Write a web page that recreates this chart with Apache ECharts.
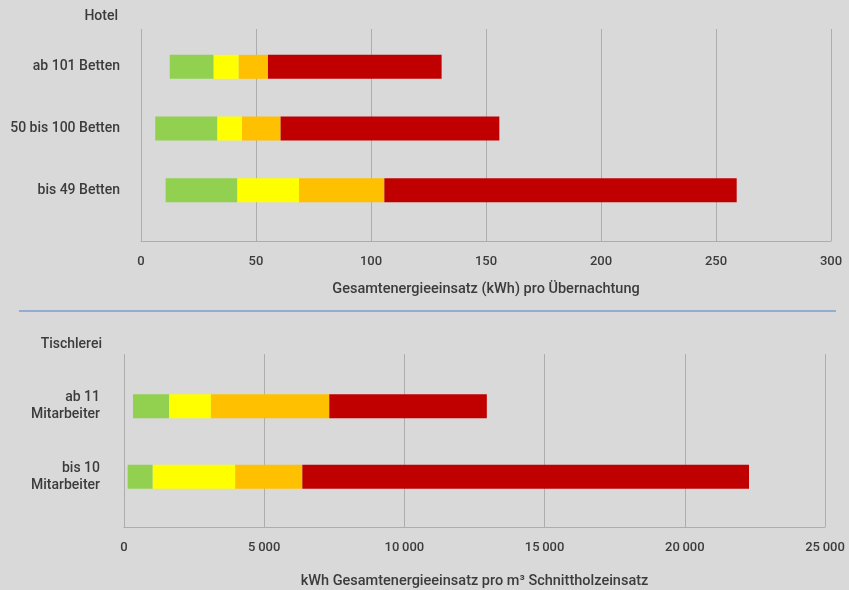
<!DOCTYPE html>
<html>
<head>
<meta charset="utf-8">
<script src="https://cdn.jsdelivr.net/npm/echarts@6/dist/echarts.min.js"></script>
<style>
  html, body { margin: 0; background: #d9d9d9; }
  #chart { width: 849px; height: 590px; }
</style>
</head>
<body>
<div id="chart"></div>
<script>
// Hotel: bar boundaries (kWh pro Übernachtung)
var hotelCats   = ["ab 101 Betten", "50 bis 100 Betten", "bis 49 Betten"];
var hotelStart  = [12.5, 6.2, 10.7];
var hotelGreen  = [31.6, 33.2, 41.9];
var hotelYellow = [42.5, 43.9, 68.7];
var hotelOrange = [55.2, 60.7, 105.8];
var hotelRed    = [130.7, 155.8, 259];
var hotelTicks  = [0, 300, 50]; // min, max, interval

// Tischlerei: kWh pro m³ Schnittholzeinsatz
var tischCats   = ["ab 11\nMitarbeiter", "bis 10\nMitarbeiter"];
var tischStart  = [320, 130];
var tischGreen  = [1610, 1025];
var tischYellow = [3100, 3965];
var tischOrange = [7320, 6360];
var tischRed    = [12940, 22290];
var tischTicks  = [0, 25000, 5000];

var colors = ["#92d050", "#ffff00", "#ffc000", "#c00000"];
var textColor = "#3c3c3c";
var font = "Roboto";
var weight = 500;
var gridLine = "#adadad";

function diff(a, b) {
  return a.map(function (v, i) { return +(v - b[i]).toFixed(2); });
}

function thousands(v) {
  return String(v).replace(/\B(?=(\d{3})+(?!\d))/g, "\u2009");
}

var chart = echarts.init(document.getElementById("chart"));

// frame grids (gridlines + axis) and bar grids
var grids = [
  { left: 141, right: 18, top: 29, height: 212 },
  { left: 141, right: 18, top: 36, height: 185 },
  { left: 124, right: 24, top: 354, height: 178 },
  { left: 124, right: 24, top: 371, height: 141 }
];

function frameX(gi, ticks, name, gap, fmt) {
  return {
    type: "value", gridIndex: gi, min: ticks[0], max: ticks[1], interval: ticks[2],
    axisLine: { show: true, lineStyle: { color: gridLine, width: 1 } },
    axisTick: { show: false },
    splitLine: { show: true, lineStyle: { color: gridLine, width: 1 } },
    axisLabel: { color: textColor, fontFamily: font, fontWeight: weight, fontSize: 13, margin: 14, formatter: fmt },
    name: name, nameLocation: "middle", nameGap: gap,
    nameTextStyle: { color: textColor, fontFamily: font, fontWeight: weight, fontSize: 14.5 }
  };
}
function hiddenX(gi, ticks) {
  return { type: "value", gridIndex: gi, min: ticks[0], max: ticks[1], show: false };
}
function catY(gi, cats, margin) {
  return {
    type: "category", gridIndex: gi, data: cats, inverse: true,
    axisLine: { show: false }, axisTick: { show: false }, splitLine: { show: false },
    axisLabel: { color: textColor, fontFamily: font, fontWeight: weight, fontSize: 14,
      margin: margin, lineHeight: 17, align: "right" }
  };
}

function barSeries(axisIdx, stack, start, bounds) {
  var out = [{
    type: "bar", stack: stack, xAxisIndex: axisIdx, yAxisIndex: axisIdx,
    data: start, barWidth: 24, itemStyle: { color: "transparent" }, silent: true
  }];
  var prev = start;
  bounds.forEach(function (b, k) {
    out.push({
      type: "bar", stack: stack, xAxisIndex: axisIdx, yAxisIndex: axisIdx,
      data: diff(b, prev), barWidth: 24, itemStyle: { color: colors[k] }
    });
    prev = b;
  });
  return out;
}

chart.setOption({
  backgroundColor: "#d9d9d9",
  animation: false,
  textStyle: { fontFamily: font },
  grid: grids,
  xAxis: [
    frameX(0, hotelTicks, "Gesamtenergieeinsatz (kWh) pro Übernachtung", 41),
    hiddenX(1, hotelTicks),
    frameX(2, tischTicks, "kWh Gesamtenergieeinsatz pro m³ Schnittholzeinsatz", 47, thousands),
    hiddenX(3, tischTicks)
  ],
  yAxis: [
    { type: "value", gridIndex: 0, min: 0, max: 1, show: false },
    catY(1, hotelCats, 21),
    { type: "value", gridIndex: 2, min: 0, max: 1, show: false },
    catY(3, tischCats, 24)
  ],
  series: []
    .concat(barSeries(1, "hotel", hotelStart, [hotelGreen, hotelYellow, hotelOrange, hotelRed]))
    .concat(barSeries(3, "tisch", tischStart, [tischGreen, tischYellow, tischOrange, tischRed])),
  graphic: [
    { type: "text", right: 849 - 118, top: 9,
      style: { text: "Hotel", fill: textColor, font: weight + " 14px " + font, textAlign: "right" } },
    { type: "text", right: 849 - 102, top: 337,
      style: { text: "Tischlerei", fill: textColor, font: weight + " 14px " + font, textAlign: "right" } },
    { type: "line", shape: { x1: 19, y1: 311, x2: 836, y2: 311 },
      style: { stroke: "#7c9dd0", lineWidth: 1.5 } }
  ]
});
</script>
</body>
</html>
